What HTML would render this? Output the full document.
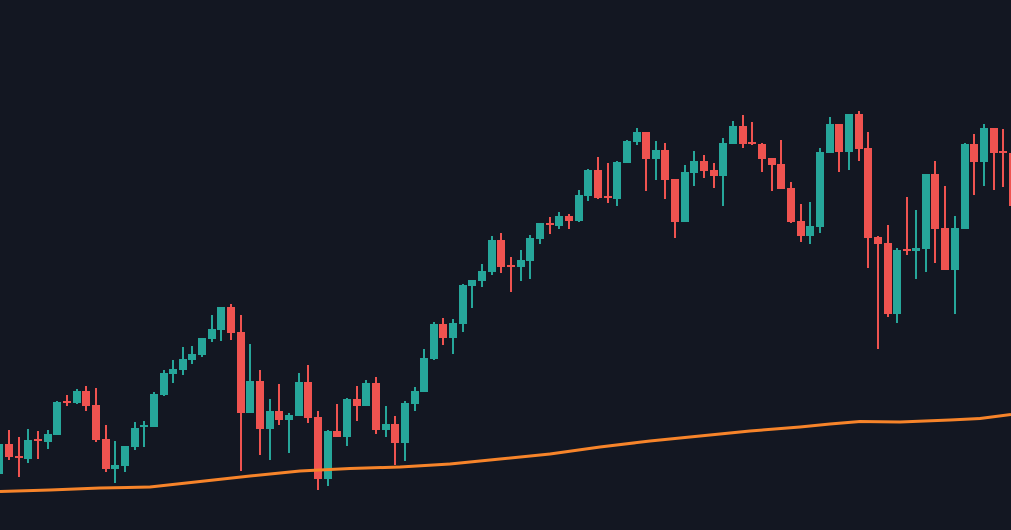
<!DOCTYPE html>
<html><head><meta charset="utf-8"><style>
html,body{margin:0;padding:0;background:#131722;width:1011px;height:530px;overflow:hidden}
svg{display:block}
.g{fill:#26a69a}.r{fill:#ef5350}
</style></head><body>
<svg width="1011" height="530" viewBox="0 0 1011 530" xmlns="http://www.w3.org/2000/svg">
<rect width="1011" height="530" fill="#131722"/>
<g class="g">
<rect x="-2" y="444" width="2" height="31"/><rect x="-5" y="444" width="8" height="30"/>
<rect x="27" y="429" width="2" height="34"/><rect x="24" y="440" width="8" height="19"/>
<rect x="47" y="430" width="2" height="19"/><rect x="44" y="434" width="8" height="8"/>
<rect x="56" y="401" width="2" height="34"/><rect x="53" y="402" width="8" height="33"/>
<rect x="76" y="389" width="2" height="15"/><rect x="73" y="391" width="8" height="12"/>
<rect x="114" y="441" width="2" height="42"/><rect x="111" y="465" width="8" height="4"/>
<rect x="124" y="446" width="2" height="26"/><rect x="121" y="446" width="8" height="20"/>
<rect x="134" y="422" width="2" height="28"/><rect x="131" y="428" width="8" height="19"/>
<rect x="143" y="421" width="2" height="26"/><rect x="140" y="425" width="8" height="2"/>
<rect x="153" y="392" width="2" height="35"/><rect x="150" y="394" width="8" height="33"/>
<rect x="163" y="370" width="2" height="26"/><rect x="160" y="373" width="8" height="22"/>
<rect x="172" y="360" width="2" height="23"/><rect x="169" y="369" width="8" height="5"/>
<rect x="182" y="347" width="2" height="28"/><rect x="179" y="359" width="8" height="11"/>
<rect x="191" y="346" width="2" height="18"/><rect x="188" y="354" width="8" height="6"/>
<rect x="201" y="338" width="2" height="19"/><rect x="198" y="338" width="8" height="17"/>
<rect x="211" y="315" width="2" height="27"/><rect x="208" y="329" width="8" height="10"/>
<rect x="220" y="307" width="2" height="34"/><rect x="217" y="307" width="8" height="23"/>
<rect x="249" y="344" width="2" height="69"/><rect x="246" y="381" width="8" height="32"/>
<rect x="269" y="399" width="2" height="61"/><rect x="266" y="411" width="8" height="18"/>
<rect x="288" y="413" width="2" height="40"/><rect x="285" y="415" width="8" height="5"/>
<rect x="298" y="373" width="2" height="43"/><rect x="295" y="382" width="8" height="34"/>
<rect x="327" y="430" width="2" height="56"/><rect x="324" y="431" width="8" height="48"/>
<rect x="346" y="398" width="2" height="48"/><rect x="343" y="399" width="8" height="38"/>
<rect x="365" y="380" width="2" height="26"/><rect x="362" y="383" width="8" height="23"/>
<rect x="385" y="406" width="2" height="31"/><rect x="382" y="424" width="8" height="6"/>
<rect x="404" y="401" width="2" height="60"/><rect x="401" y="403" width="8" height="40"/>
<rect x="414" y="387" width="2" height="24"/><rect x="411" y="391" width="8" height="13"/>
<rect x="423" y="349" width="2" height="43"/><rect x="420" y="358" width="8" height="34"/>
<rect x="433" y="322" width="2" height="38"/><rect x="430" y="324" width="8" height="35"/>
<rect x="452" y="319" width="2" height="35"/><rect x="449" y="323" width="8" height="15"/>
<rect x="462" y="284" width="2" height="48"/><rect x="459" y="285" width="8" height="39"/>
<rect x="471" y="280" width="2" height="28"/><rect x="468" y="280" width="8" height="6"/>
<rect x="481" y="264" width="2" height="23"/><rect x="478" y="271" width="8" height="10"/>
<rect x="491" y="236" width="2" height="39"/><rect x="488" y="240" width="8" height="32"/>
<rect x="520" y="250" width="2" height="31"/><rect x="517" y="260" width="8" height="7"/>
<rect x="529" y="235" width="2" height="44"/><rect x="526" y="238" width="8" height="23"/>
<rect x="539" y="223" width="2" height="21"/><rect x="536" y="223" width="8" height="16"/>
<rect x="558" y="212" width="2" height="17"/><rect x="555" y="216" width="8" height="10"/>
<rect x="578" y="190" width="2" height="32"/><rect x="575" y="195" width="8" height="26"/>
<rect x="587" y="169" width="2" height="32"/><rect x="584" y="170" width="8" height="26"/>
<rect x="616" y="161" width="2" height="45"/><rect x="613" y="162" width="8" height="37"/>
<rect x="626" y="140" width="2" height="23"/><rect x="623" y="141" width="8" height="22"/>
<rect x="636" y="128" width="2" height="17"/><rect x="633" y="132" width="8" height="10"/>
<rect x="655" y="141" width="2" height="39"/><rect x="652" y="150" width="8" height="9"/>
<rect x="684" y="165" width="2" height="57"/><rect x="681" y="172" width="8" height="50"/>
<rect x="693" y="151" width="2" height="35"/><rect x="690" y="161" width="8" height="12"/>
<rect x="722" y="138" width="2" height="68"/><rect x="719" y="143" width="8" height="33"/>
<rect x="732" y="121" width="2" height="23"/><rect x="729" y="126" width="8" height="18"/>
<rect x="809" y="202" width="2" height="42"/><rect x="806" y="226" width="8" height="10"/>
<rect x="819" y="148" width="2" height="85"/><rect x="816" y="152" width="8" height="75"/>
<rect x="829" y="117" width="2" height="36"/><rect x="826" y="124" width="8" height="29"/>
<rect x="848" y="114" width="2" height="56"/><rect x="845" y="114" width="8" height="38"/>
<rect x="896" y="248" width="2" height="75"/><rect x="893" y="250" width="8" height="64"/>
<rect x="915" y="210" width="2" height="69"/><rect x="912" y="248" width="8" height="3"/>
<rect x="925" y="174" width="2" height="98"/><rect x="922" y="174" width="8" height="75"/>
<rect x="954" y="216" width="2" height="98"/><rect x="951" y="228" width="8" height="42"/>
<rect x="964" y="143" width="2" height="86"/><rect x="961" y="144" width="8" height="85"/>
<rect x="983" y="124" width="2" height="62"/><rect x="980" y="128" width="8" height="34"/>
</g>
<g class="r">
<rect x="8" y="430" width="2" height="30"/><rect x="5" y="444" width="8" height="13"/>
<rect x="18" y="437" width="2" height="40"/><rect x="15" y="456" width="8" height="2"/>
<rect x="37" y="431" width="2" height="28"/><rect x="34" y="439" width="8" height="2"/>
<rect x="66" y="395" width="2" height="11"/><rect x="63" y="401" width="8" height="2"/>
<rect x="85" y="386" width="2" height="25"/><rect x="82" y="391" width="8" height="15"/>
<rect x="95" y="388" width="2" height="54"/><rect x="92" y="405" width="8" height="35"/>
<rect x="105" y="425" width="2" height="47"/><rect x="102" y="439" width="8" height="30"/>
<rect x="230" y="304" width="2" height="36"/><rect x="227" y="307" width="8" height="26"/>
<rect x="240" y="315" width="2" height="156"/><rect x="237" y="332" width="8" height="81"/>
<rect x="259" y="370" width="2" height="85"/><rect x="256" y="381" width="8" height="48"/>
<rect x="278" y="384" width="2" height="41"/><rect x="275" y="411" width="8" height="9"/>
<rect x="307" y="365" width="2" height="58"/><rect x="304" y="382" width="8" height="36"/>
<rect x="317" y="411" width="2" height="79"/><rect x="314" y="417" width="8" height="62"/>
<rect x="336" y="404" width="2" height="33"/><rect x="333" y="431" width="8" height="6"/>
<rect x="356" y="386" width="2" height="35"/><rect x="353" y="399" width="8" height="7"/>
<rect x="375" y="377" width="2" height="57"/><rect x="372" y="383" width="8" height="47"/>
<rect x="394" y="416" width="2" height="49"/><rect x="391" y="424" width="8" height="19"/>
<rect x="442" y="318" width="2" height="27"/><rect x="439" y="324" width="8" height="14"/>
<rect x="500" y="233" width="2" height="40"/><rect x="497" y="240" width="8" height="27"/>
<rect x="510" y="257" width="2" height="35"/><rect x="507" y="265" width="8" height="2"/>
<rect x="549" y="217" width="2" height="17"/><rect x="546" y="223" width="8" height="2"/>
<rect x="568" y="214" width="2" height="15"/><rect x="565" y="216" width="8" height="5"/>
<rect x="597" y="157" width="2" height="42"/><rect x="594" y="170" width="8" height="28"/>
<rect x="607" y="163" width="2" height="40"/><rect x="604" y="196" width="8" height="2"/>
<rect x="645" y="132" width="2" height="59"/><rect x="642" y="132" width="8" height="27"/>
<rect x="664" y="143" width="2" height="56"/><rect x="661" y="150" width="8" height="30"/>
<rect x="674" y="179" width="2" height="59"/><rect x="671" y="179" width="8" height="43"/>
<rect x="703" y="155" width="2" height="23"/><rect x="700" y="161" width="8" height="10"/>
<rect x="713" y="163" width="2" height="25"/><rect x="710" y="170" width="8" height="6"/>
<rect x="742" y="115" width="2" height="33"/><rect x="739" y="126" width="8" height="18"/>
<rect x="751" y="122" width="2" height="23"/><rect x="748" y="142" width="8" height="2"/>
<rect x="761" y="143" width="2" height="29"/><rect x="758" y="144" width="8" height="15"/>
<rect x="771" y="158" width="2" height="33"/><rect x="768" y="158" width="8" height="7"/>
<rect x="780" y="140" width="2" height="49"/><rect x="777" y="164" width="8" height="25"/>
<rect x="790" y="182" width="2" height="41"/><rect x="787" y="188" width="8" height="34"/>
<rect x="800" y="204" width="2" height="38"/><rect x="797" y="221" width="8" height="15"/>
<rect x="838" y="124" width="2" height="48"/><rect x="835" y="124" width="8" height="28"/>
<rect x="858" y="111" width="2" height="50"/><rect x="855" y="114" width="8" height="35"/>
<rect x="867" y="132" width="2" height="136"/><rect x="864" y="148" width="8" height="90"/>
<rect x="877" y="236" width="2" height="113"/><rect x="874" y="237" width="8" height="7"/>
<rect x="887" y="225" width="2" height="92"/><rect x="884" y="243" width="8" height="71"/>
<rect x="906" y="197" width="2" height="58"/><rect x="903" y="249" width="8" height="2"/>
<rect x="934" y="161" width="2" height="102"/><rect x="931" y="174" width="8" height="55"/>
<rect x="944" y="186" width="2" height="84"/><rect x="941" y="228" width="8" height="42"/>
<rect x="973" y="134" width="2" height="61"/><rect x="970" y="144" width="8" height="18"/>
<rect x="993" y="128" width="2" height="62"/><rect x="990" y="128" width="8" height="25"/>
<rect x="1002" y="129" width="2" height="58"/><rect x="999" y="151" width="8" height="2"/>
<rect x="1012" y="153" width="2" height="53"/><rect x="1009" y="153" width="8" height="53"/>
</g>
<polyline fill="none" stroke="#f7842a" stroke-width="3" stroke-linejoin="round"
points="0,491.5 50,490 100,488 150,487 200,481.5 250,476 300,471 350,468.5 400,467 450,464 500,459 550,454 600,447 650,441 700,436 750,431 800,427 830,424 860,421.5 900,422 950,420 980,418.5 1011,414.5"/>
</svg>
</body></html>
